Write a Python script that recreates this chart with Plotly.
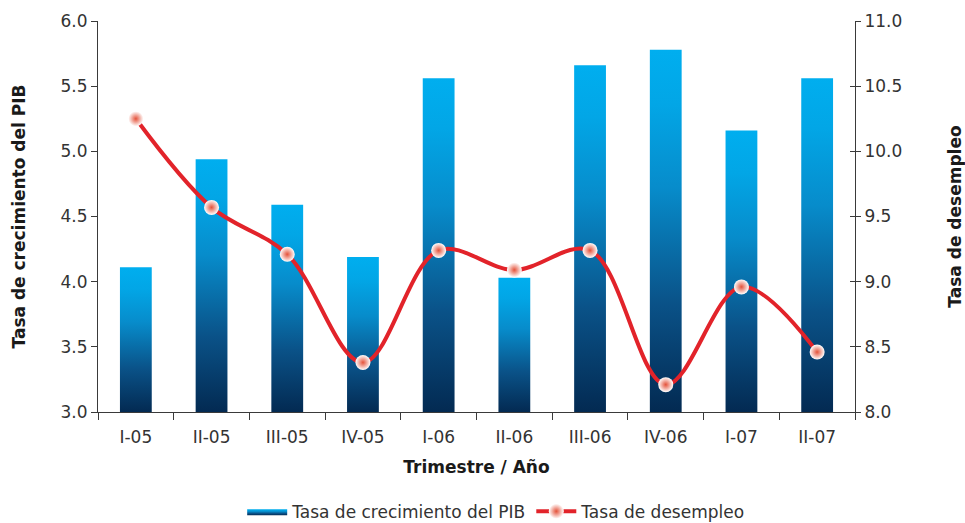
import plotly.graph_objects as go

# Quarterly GDP growth vs. unemployment rate
trimestres = ["I-05", "II-05", "III-05", "IV-05", "I-06", "II-06",
              "III-06", "IV-06", "I-07", "II-07"]
crecimiento_pib = [4.11, 4.94, 4.59, 4.19, 5.56, 4.03, 5.66, 5.78, 5.16, 5.56]
desempleo = [10.25, 9.57, 9.21, 8.38, 9.24, 9.09, 9.24, 8.21, 8.96, 8.46]

pib_range = [3.0, 6.0]
des_range = [8.0, 11.0]
pib_ticks = [3.0, 3.5, 4.0, 4.5, 5.0, 5.5, 6.0]
des_ticks = [8.0, 8.5, 9.0, 9.5, 10.0, 10.5, 11.0]

FONT = "DejaVu Sans"
AXIS_COLOR = "#3a3a3a"
BAR_HALF = 0.21
bar_scale = [[0.0, "#032a52"], [0.3, "#0a5288"], [0.62, "#078ccb"], [0.85, "#02a6e6"], [1.0, "#00aeef"]]

fig = go.Figure()

# Gradient-filled bars, one polygon per quarter, from the axis floor to its value
for i, (cat, v) in enumerate(zip(trimestres, crecimiento_pib)):
    base = pib_range[0]
    fig.add_trace(go.Scatter(
        x=[i - BAR_HALF, i + BAR_HALF, i + BAR_HALF, i - BAR_HALF, i - BAR_HALF],
        y=[base, base, v, v, base],
        mode="lines",
        line=dict(width=0, color="#0a6aa8"),
        fill="toself",
        fillgradient=dict(type="vertical", colorscale=bar_scale),
        name="Tasa de crecimiento del PIB",
        legendgroup="pib",
        showlegend=(i == 0),
        hoverinfo="skip",
        yaxis="y",
    ))

# Unemployment line on the secondary axis
fig.add_trace(go.Scatter(
    x=list(range(len(trimestres))),
    y=desempleo,
    mode="lines+markers",
    line=dict(color="#e2232a", width=4, shape="spline", smoothing=1.0),
    marker=dict(size=15, color="#ffffff",
                gradient=dict(type="radial", color="#e4523a"),
                line=dict(width=0)),
    name="Tasa de desempleo",
    yaxis="y2",
    customdata=trimestres,
    hovertemplate="%{customdata}: %{y:.2f}<extra></extra>",
))

# Empty trace so the inner tick marks of the right axis get drawn
fig.add_trace(go.Scatter(x=[None], y=[None], yaxis="y3", showlegend=False,
                         hoverinfo="skip", mode="lines"))

tick_font = dict(family=FONT, size=17, color="#333333")
title_font = dict(family=FONT, size=17, color="#1a1a1a")

fig.update_layout(
    width=965, height=523,
    margin=dict(l=98, r=110, t=21, b=111, autoexpand=False),
    paper_bgcolor="white",
    plot_bgcolor="white",
    font=dict(family=FONT, size=16, color="#333333"),
    xaxis=dict(
        range=[-0.5, len(trimestres) - 0.5],
        tickmode="array",
        tickvals=list(range(len(trimestres))),
        ticktext=trimestres,
        ticks="",
        ticklabelstandoff=10,
        tickfont=tick_font,
        showgrid=False, zeroline=False,
        showline=True, linecolor=AXIS_COLOR, linewidth=1,
        minor=dict(tickmode="array",
                   tickvals=[k - 0.5 for k in range(len(trimestres) + 1)],
                   ticks="outside", ticklen=7, tickcolor=AXIS_COLOR, showgrid=False),
        title=dict(text="<b>Trimestre / Año</b>", font=title_font, standoff=14),
        automargin=False,
        fixedrange=True,
    ),
    yaxis=dict(
        range=pib_range,
        tickmode="array", tickvals=pib_ticks,
        ticktext=[f"{t:.1f}" for t in pib_ticks],
        ticks="outside", ticklen=6, tickcolor=AXIS_COLOR,
        tickfont=tick_font,
        showgrid=False, zeroline=False,
        showline=True, linecolor=AXIS_COLOR, linewidth=1,
        title=dict(text="<b>Tasa de crecimiento del PIB</b>", font=title_font, standoff=30),
        automargin=False,
    ),
    yaxis2=dict(
        range=des_range,
        overlaying="y", side="right", anchor="x",
        tickmode="array", tickvals=des_ticks,
        ticktext=[f"{t:.1f}" for t in des_ticks],
        ticks="outside", ticklen=5, tickcolor=AXIS_COLOR,
        tickfont=tick_font,
        showgrid=False, zeroline=False,
        showline=True, linecolor=AXIS_COLOR, linewidth=1,
        title=dict(text="<b>Tasa de desempleo</b>", font=title_font, standoff=52),
        automargin=False,
    ),
    yaxis3=dict(
        range=des_range,
        overlaying="y", side="right", anchor="x",
        tickmode="array", tickvals=des_ticks,
        ticks="inside", ticklen=5, tickcolor=AXIS_COLOR,
        showticklabels=False, showgrid=False, zeroline=False,
        showline=False,
    ),
    legend=dict(
        orientation="h",
        x=0.526, xanchor="center",
        y=-0.255, yanchor="middle",
        font=dict(family=FONT, size=17, color="#333333"),
        itemwidth=40,
        tracegroupgap=0,
        bgcolor="rgba(0,0,0,0)",
    ),
    showlegend=True,
)

fig.write_html("out.html")
